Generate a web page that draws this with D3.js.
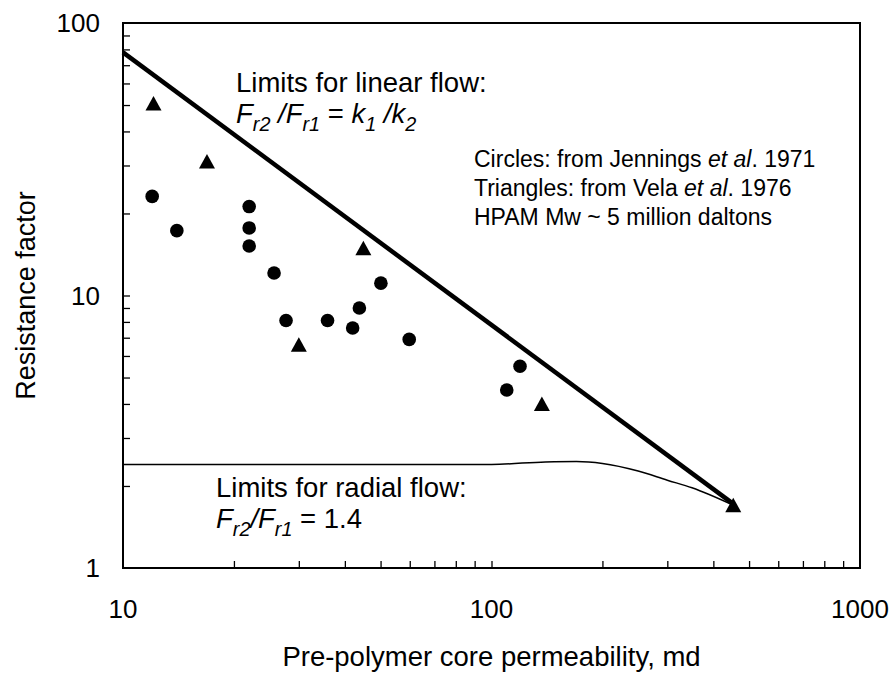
<!DOCTYPE html>
<html>
<head>
<meta charset="utf-8">
<script src="https://cdn.jsdelivr.net/npm/d3@7"></script>
<style>
  body { margin: 0; background: #fff; }
  text { font-family: Arial, "Liberation Sans", sans-serif; fill: #000; }
</style>
</head>
<body>
<div id="chart"></div>
<script>
// Resistance factor vs pre-polymer permeability (log-log)

// circles: Jennings et al. 1971
const circleK  = [12, 14, 22, 22, 22, 25.7, 27.7, 35.9, 42, 43.8, 50.1, 59.8, 110, 119.5];
const circleRF = [23.1, 17.3, 21.2, 17.7, 15.2, 12.1, 8.1, 8.1, 7.6, 9.0, 11.1, 6.9, 4.5, 5.5];

// triangles: Vela et al. 1976
const triK  = [12.1, 16.9, 30, 44.9, 137, 453];
const triRF = [50.7, 31, 6.6, 14.9, 4.0, 1.70];

// limit lines
const linearK  = [10, 453];
const linearRF = [78, 1.72];
const radialK  = [10, 100, 140, 170, 200, 250, 300, 350, 453];
const radialRF = [2.4, 2.4, 2.45, 2.46, 2.42, 2.27, 2.1, 1.97, 1.70];

// axis ticks
const xMinor = [20, 30, 40, 50, 60, 70, 80, 90, 100, 200, 300, 400, 500, 600, 700, 800, 900];
const yMinor = [2, 3, 4, 5, 6, 7, 8, 9, 10, 20, 30, 40, 50, 60, 70, 80, 90];
const xLabels = [10, 100, 1000];
const yLabels = [1, 10, 100];

var width = 893,
    height = 673,
    margin = {top: 23, right: 33, bottom: 105, left: 123};
var w = width - margin.left - margin.right,
    h = height - margin.top - margin.bottom;

var svg = d3.select("#chart")
  .append("svg")
    .attr("width", width)
    .attr("height", height);

var g = svg.append("g")
  .attr("transform", "translate(" + margin.left + "," + margin.top + ")");

var x = d3.scaleLog().domain([10, 1000]).range([0, w]);
var y = d3.scaleLog().domain([1, 100]).range([h, 0]);

// inward ticks
g.append("g")
  .call(d3.axisRight(y).tickValues(yMinor).tickSize(7).tickFormat(""))
  .call(a => a.select(".domain").remove())
  .selectAll("line").attr("stroke", "#000").attr("stroke-width", 1.3);

g.append("g")
  .attr("transform", "translate(0," + h + ")")
  .call(d3.axisTop(x).tickValues(xMinor).tickSize(7).tickFormat(""))
  .call(a => a.select(".domain").remove())
  .selectAll("line").attr("stroke", "#000").attr("stroke-width", 1.3);

// frame
g.append("rect")
  .attr("width", w).attr("height", h)
  .attr("fill", "none")
  .attr("stroke", "#000")
  .attr("stroke-width", 2);

// tick labels
g.selectAll(".ylab")
  .data(yLabels)
  .enter().append("text")
  .attr("x", -23)
  .attr("y", d => y(d))
  .attr("dy", "0.35em")
  .attr("text-anchor", "end")
  .style("font-size", "26px")
  .text(d => d);

g.selectAll(".xlab")
  .data(xLabels)
  .enter().append("text")
  .attr("x", d => x(d))
  .attr("y", h + 41)
  .attr("dy", "0.35em")
  .attr("text-anchor", "middle")
  .style("font-size", "26px")
  .text(d => d);

// axis titles
svg.append("text")
  .attr("x", margin.left + w / 2)
  .attr("y", 666)
  .attr("text-anchor", "middle")
  .style("font-size", "27.5px")
  .text("Pre-polymer core permeability, md");

svg.append("text")
  .attr("transform", "translate(35," + (margin.top + h / 2) + ") rotate(-90)")
  .attr("text-anchor", "middle")
  .style("font-size", "27px")
  .text("Resistance factor");

// lines
var line = d3.line()
  .x(d => x(d[0]))
  .y(d => y(d[1]));

g.append("path")
  .datum(linearK.map((k, i) => [k, linearRF[i]]))
  .attr("fill", "none")
  .attr("stroke", "#000")
  .attr("stroke-width", 4.5)
  .attr("d", line);

g.append("path")
  .datum(radialK.map((k, i) => [k, radialRF[i]]))
  .attr("fill", "none")
  .attr("stroke", "#000")
  .attr("stroke-width", 1.5)
  .attr("d", line.curve(d3.curveMonotoneX));

// markers
g.selectAll(".circ")
  .data(circleK.map((k, i) => [k, circleRF[i]]))
  .enter().append("circle")
  .attr("cx", d => x(d[0]))
  .attr("cy", d => y(d[1]))
  .attr("r", 6.8)
  .attr("fill", "#000");

g.selectAll(".tri")
  .data(triK.map((k, i) => [k, triRF[i]]))
  .enter().append("path")
  .attr("transform", d => "translate(" + x(d[0]) + "," + y(d[1]) + ")")
  .attr("d", "M0,-7.5L8,7L-8,7Z")
  .attr("fill", "#000");

// rich text helper: segments of {t, i (italic), s (subscript)}
function richText(px, py, size, segs) {
  var t = svg.append("text")
    .attr("x", px).attr("y", py)
    .style("font-size", size + "px");
  var down = false;
  segs.forEach(function(s) {
    var ts = t.append("tspan").text(s.t);
    if (s.i) ts.style("font-style", "italic");
    if (s.s && !down) { ts.attr("dy", size * 0.28); down = true; }
    else if (!s.s && down) { ts.attr("dy", -size * 0.28); down = false; }
    if (s.s) ts.style("font-size", (size * 0.72) + "px");
  });
  return t;
}

richText(236, 92, 27.5, [{t: "Limits for linear flow:"}]);
richText(236, 123, 27.5, [
  {t: "F", i: true}, {t: "r2", i: true, s: true}, {t: " /F", i: true}, {t: "r1", i: true, s: true},
  {t: " = "}, {t: "k", i: true}, {t: "1", i: true, s: true}, {t: " /k", i: true}, {t: "2", i: true, s: true}
]);

richText(474, 167, 23, [{t: "Circles: from Jennings "}, {t: "et al", i: true}, {t: ". 1971"}]);
richText(474, 196, 23, [{t: "Triangles: from Vela "}, {t: "et al", i: true}, {t: ". 1976"}]);
richText(474, 225, 23, [{t: "HPAM Mw ~ 5 million daltons"}]);

richText(216, 497, 27.5, [{t: "Limits for radial flow:"}]);
richText(216, 528, 27.5, [
  {t: "F", i: true}, {t: "r2", i: true, s: true}, {t: "/F", i: true}, {t: "r1", i: true, s: true},
  {t: " = 1.4"}
]);
</script>
</body>
</html>
